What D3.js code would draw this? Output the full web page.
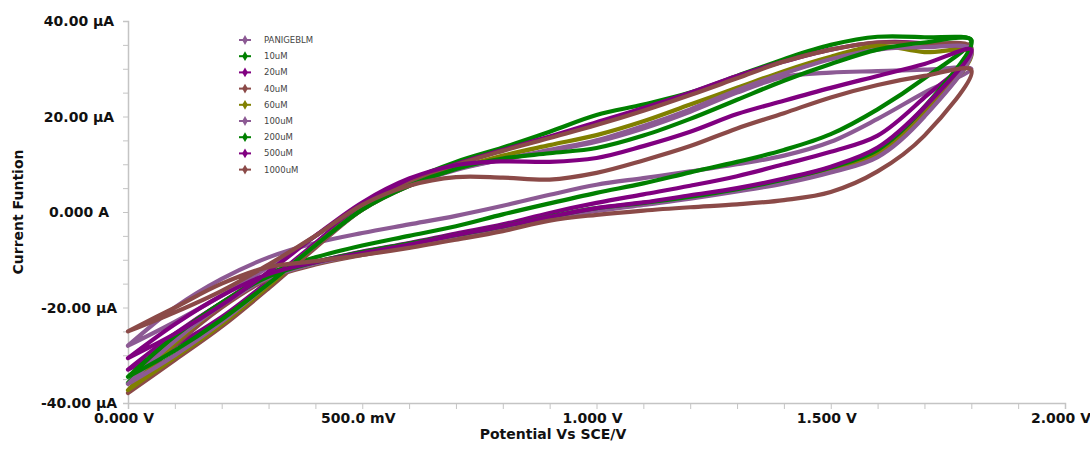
<!DOCTYPE html>
<html>
<head>
<meta charset="utf-8">
<script src="https://cdn.jsdelivr.net/npm/d3@7"></script>
<style>
  body { margin: 0; background: #fff; }
  svg { display: block; }
</style>
</head>
<body>
<svg id="cv"></svg>
<script>
// potential steps (V) shared by every scan
var potentials = [0.0, 0.1, 0.2, 0.3, 0.4, 0.5, 0.6, 0.7, 0.8, 0.9, 1.0, 1.1, 1.2, 1.3, 1.4, 1.5, 1.6, 1.7, 1.8];

var seriesNames = ["PANIGEBLM", "10uM", "20uM", "40uM", "60uM", "100uM", "200uM", "500uM", "1000uM"];
var seriesColors = ["#8c5a94", "#008000", "#800080", "#8b4a48", "#808000", "#8c5a94", "#008000", "#800080", "#8b4a48"];

// current (µA) on the forward scan, 0 -> 1.8 V
var fwdPANIGEBLM = [-28, -23, -17.5, -11.5, -5, 1.5, 6, 9, 11, 12.8, 14.7, 17.5, 21, 25, 28.3, 29.2, 29.5, 29.8, 30];
var fwd10uM = [-35.8, -30, -23.5, -15.5, -7, 1, 6.5, 10.5, 13.5, 16.8, 20.3, 22.5, 25, 28.5, 32, 35, 36.7, 36.6, 36];
var fwd20uM = [-33, -28, -22, -14.5, -6.5, 1.5, 6.5, 10, 13, 15.8, 18.8, 21.8, 25, 28.5, 31.5, 34, 35.5, 35.3, 33.5];
var fwd40uM = [-37.9, -31, -24, -16, -7.5, 0.5, 6, 9.8, 12.8, 15.5, 18.2, 21.2, 24.5, 28, 31.5, 34, 35.5, 35.2, 34.5];
var fwd60uM = [-37.3, -30.5, -23.5, -15.5, -7, 0.5, 5.5, 9, 11.8, 14, 16.1, 19, 22.5, 26, 29.5, 32.5, 34.8, 33.5, 33.5];
var fwd100uM = [-36, -30, -23, -15, -7, 0.5, 5.5, 8.8, 11, 13, 15, 18, 21.5, 25.5, 29, 32, 34, 34.5, 34];
var fwd200uM = [-34.5, -29, -22.5, -15, -7, 0.5, 5.5, 9, 11.2, 12.3, 13.4, 16, 19.5, 23.5, 27.5, 31, 34, 35.5, 36];
var fwd500uM = [-30.6, -25.5, -19.5, -12.5, -5, 2, 7, 9.8, 10.6, 10.5, 11.3, 13.8, 16.8, 20.5, 23.3, 26, 28.5, 31, 34];
var fwd1000uM = [-25, -21, -16.5, -11, -5, 1.5, 5.5, 7.3, 7.2, 6.8, 8.2, 10.8, 13.8, 17.5, 20.7, 24, 26.6, 28.5, 29.7];

// current (µA) on the reverse scan, listed at the same potentials
var revPANIGEBLM = [-28, -20, -14, -9.5, -6.5, -4.4, -2.6, -0.8, 1.3, 3.6, 5.7, 7.1, 8.5, 10, 11.8, 14.7, 19.5, 25, 30];
var rev10uM = [-35.8, -26, -19, -13, -9.5, -7, -5, -3, -0.5, 1.8, 4, 6, 8.3, 10.5, 13, 16.3, 21.5, 28, 36];
var rev20uM = [-33, -25.5, -19, -13.5, -10.5, -8.3, -6.5, -4.5, -2.6, -0.2, 1.9, 3.7, 5.5, 7.5, 10, 12.6, 16, 24, 33.5];
var rev40uM = [-37.9, -28, -20, -14, -11, -9, -7.2, -5.4, -3.6, -1.4, 0.4, 1.7, 3, 4.5, 6.5, 9, 12.5, 21, 34.5];
var rev60uM = [-37.3, -27.5, -19.5, -13.8, -10.8, -8.8, -7, -5.2, -3.4, -1.3, 0.5, 1.8, 3, 4.5, 6.3, 8.8, 12, 20.5, 33.5];
var rev100uM = [-36, -27, -19.5, -13.8, -10.8, -8.8, -7, -5.2, -3.3, -1.3, 0.2, 1.5, 2.8, 4.3, 6, 8.3, 11.5, 20, 34];
var rev200uM = [-34.5, -26, -19, -13.5, -10.5, -8.4, -6.6, -4.8, -3, -1, 0.8, 1.9, 3.2, 4.8, 6.8, 9.3, 13, 22, 36];
var rev500uM = [-30.6, -23.5, -17.5, -13, -10.5, -8.6, -6.8, -4.8, -3, -1, 0.8, 2, 3.5, 5, 7, 9.5, 13.5, 22, 34];
var rev1000uM = [-25, -20, -15, -11.5, -10.3, -9, -7.5, -5.8, -4, -1.8, -0.6, 0.3, 1, 1.6, 2.5, 4.2, 8.5, 16, 29.7];

var forwardScans = [fwdPANIGEBLM, fwd10uM, fwd20uM, fwd40uM, fwd60uM, fwd100uM, fwd200uM, fwd500uM, fwd1000uM];
var reverseScans = [revPANIGEBLM, rev10uM, rev20uM, rev40uM, rev60uM, rev100uM, rev200uM, rev500uM, rev1000uM];

var xTicks = [0, 0.5, 1.0, 1.5, 2.0];
var xTickLabels = ["0.000 V", "500.0 mV", "1.000 V", "1.500 V", "2.000 V"];
var yTicks = [-40, -20, 0, 20, 40];
var yTickLabels = ["-40.00 µA", "-20.00 µA", "0.000 A", "20.00 µA", "40.00 µA"];

var dimensions = {
    width: 1090,
    height: 452,
    margin: { top: 21, bottom: 49, left: 128, right: 25 }
};

var svg = d3.select("#cv")
    .attr("width", dimensions.width)
    .attr("height", dimensions.height);

var xScale = d3.scaleLinear()
    .domain([0, 2])
    .range([dimensions.margin.left, dimensions.width - dimensions.margin.right]);

var yScale = d3.scaleLinear()
    .domain([-40, 40])
    .range([dimensions.height - dimensions.margin.bottom, dimensions.margin.top]);

var axisColor = "#c4c4c4";
var labelFont = "'DejaVu Sans', sans-serif";

// minor ticks every 0.1 V / 5 µA
var xAxis = svg.append("g")
    .attr("transform", `translate(0, ${yScale(-40)})`)
    .call(d3.axisBottom(xScale).ticks(20).tickSize(6).tickFormat(""));
var yAxis = svg.append("g")
    .attr("transform", `translate(${xScale(0)}, 0)`)
    .call(d3.axisLeft(yScale).ticks(16).tickSize(5).tickFormat(""));

[xAxis, yAxis].forEach(function(ax) {
    ax.select(".domain").attr("stroke", axisColor).attr("stroke-width", 1.5);
    ax.selectAll(".tick line").attr("stroke", axisColor);
});

// tick labels
svg.selectAll(".xlabel")
    .data(xTicks)
    .enter()
    .append("text")
    .attr("class", "xlabel")
    .attr("x", d => xScale(d) - 4)
    .attr("y", yScale(-40) + 20)
    .attr("text-anchor", "middle")
    .style("font-family", labelFont)
    .style("font-weight", "bold")
    .style("font-size", "14px")
    .attr("fill", "#111")
    .text((d, i) => xTickLabels[i]);

svg.selectAll(".ylabel")
    .data(yTicks)
    .enter()
    .append("text")
    .attr("class", "ylabel")
    .attr("x", 79)
    .attr("y", d => yScale(d))
    .attr("dy", "0.36em")
    .attr("text-anchor", "middle")
    .style("font-family", labelFont)
    .style("font-weight", "bold")
    .style("font-size", "14px")
    .attr("fill", "#111")
    .text((d, i) => yTickLabels[i]);

// axis titles
svg.append("text")
    .attr("x", 553)
    .attr("y", 439)
    .attr("text-anchor", "middle")
    .style("font-family", labelFont)
    .style("font-weight", "bold")
    .style("font-size", "14px")
    .attr("fill", "#111")
    .text("Potential Vs SCE/V");

svg.append("text")
    .attr("transform", `translate(23, ${yScale(0)}) rotate(-90)`)
    .attr("text-anchor", "middle")
    .style("font-family", labelFont)
    .style("font-weight", "bold")
    .style("font-size", "14px")
    .attr("fill", "#111")
    .text("Current Funtion");

// build each closed CV loop: forward scan then reverse scan back to 0 V
var loops = seriesNames.map(function(name, i) {
    var pts = potentials.map((v, j) => [v, forwardScans[i][j]]);
    for (var j = potentials.length - 2; j >= 0; j--) {
        pts.push([potentials[j], reverseScans[i][j]]);
    }
    return { name: name, color: seriesColors[i], points: pts };
});

var line = d3.line()
    .x(d => xScale(d[0]))
    .y(d => yScale(d[1]))
    .curve(d3.curveCatmullRom.alpha(0.5));

svg.append("g")
    .selectAll("path")
    .data(loops)
    .enter()
    .append("path")
    .attr("d", d => line(d.points))
    .attr("fill", "none")
    .attr("stroke", d => d.color)
    .attr("stroke-width", 4.2)
    .attr("stroke-linejoin", "round")
    .attr("stroke-linecap", "round");

// legend
var legend = svg.selectAll(".legend")
    .data(loops)
    .enter()
    .append("g")
    .attr("class", "legend")
    .attr("transform", (d, i) => `translate(245, ${40 + i * 16.2})`);

legend.append("line")
    .attr("x1", -6)
    .attr("x2", 6)
    .attr("stroke", d => d.color)
    .attr("stroke-width", 2);

legend.append("path")
    .attr("d", d3.symbol().type(d3.symbolDiamond).size(28))
    .attr("fill", d => d.color);

legend.append("text")
    .attr("x", 19)
    .attr("dy", "0.35em")
    .style("font-family", labelFont)
    .style("font-size", "8.5px")
    .attr("fill", "#444")
    .text(d => d.name);
</script>
</body>
</html>
